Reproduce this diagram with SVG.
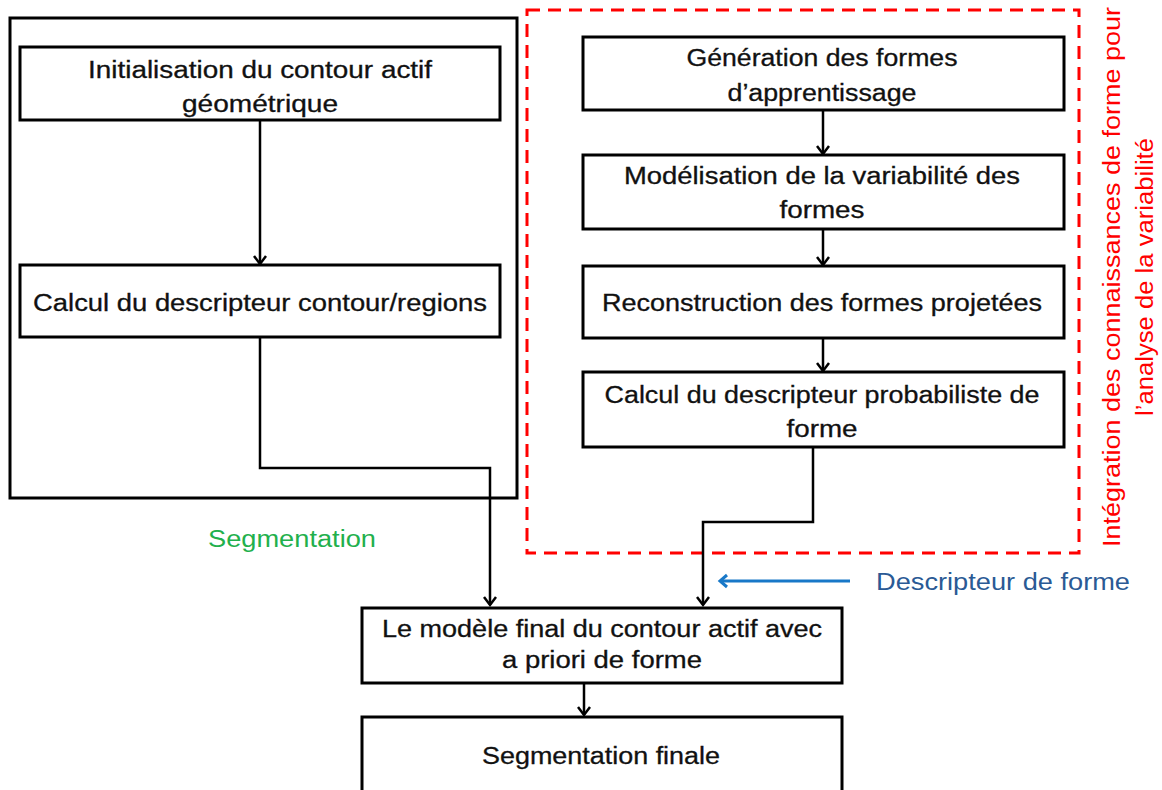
<svg xmlns="http://www.w3.org/2000/svg" width="1162" height="790" viewBox="0 0 1162 790">
  <style>
    .box { fill: #ffffff; stroke: #000000; stroke-width: 3; }
    .frame { fill: none; stroke: #000000; stroke-width: 3; }
    .dash { fill: none; stroke: #ff0000; stroke-width: 3; stroke-dasharray: 13 8; }
    .t { font-family: "Liberation Sans", Arial, sans-serif; font-size: 23px; fill: #111111; stroke: #111111; stroke-width: 0.3; text-anchor: middle; }
    .wire { fill: none; stroke: #000000; stroke-width: 2.5; }
    .blue { fill: none; stroke: #1878c8; stroke-width: 3; }
    .red { font-family: "Liberation Sans", Arial, sans-serif; font-size: 23px; fill: #ff0000; text-anchor: middle; }
  </style>
  <defs>
    <!-- open chevron heads, drawn pointing along +x -->
    <marker id="arr" markerWidth="16" markerHeight="16" refX="13" refY="8" orient="auto" markerUnits="userSpaceOnUse" viewBox="0 0 16 16">
      <path d="M5,2 L13,8 L5,14" fill="none" stroke="#000" stroke-width="2.5"/>
    </marker>
    <marker id="arrb" markerWidth="16" markerHeight="16" refX="13" refY="8" orient="auto" markerUnits="userSpaceOnUse" viewBox="0 0 16 16">
      <path d="M6,2 L13,8 L6,14" fill="none" stroke="#1878c8" stroke-width="3"/>
    </marker>
  </defs>

  <rect width="1162" height="790" fill="#ffffff"/>

  <!-- segmentation frame -->
  <g id="frame-segmentation">
    <rect class="frame" x="10" y="18" width="507" height="480"/>
    <text x="292" y="547" font-family="Liberation Sans, Arial, sans-serif" font-size="23" fill="#22b04c" text-anchor="middle" textLength="168" lengthAdjust="spacingAndGlyphs">Segmentation</text>
  </g>

  <!-- shape-prior frame -->
  <g id="frame-prior">
    <rect class="dash" x="527" y="10" width="552" height="543"/>
    <g transform="translate(1112,277) rotate(-90)">
      <text class="red" x="0" y="8" textLength="540" lengthAdjust="spacingAndGlyphs">Intégration des connaissances de forme pour</text>
      <text class="red" x="0" y="41" textLength="278" lengthAdjust="spacingAndGlyphs">l’analyse de la variabilité</text>
    </g>
  </g>

  <!-- connectors -->
  <g id="connectors">
    <line class="wire" x1="260" y1="120" x2="260" y2="264" marker-end="url(#arr)"/>
    <polyline class="wire" points="260,337 260,468 490,468 490,605" marker-end="url(#arr)"/>
    <line class="wire" x1="823" y1="110" x2="823" y2="154" marker-end="url(#arr)"/>
    <line class="wire" x1="823" y1="229" x2="823" y2="265" marker-end="url(#arr)"/>
    <line class="wire" x1="823" y1="338" x2="823" y2="371" marker-end="url(#arr)"/>
    <polyline class="wire" points="813,447 813,522 703,522 703,605" marker-end="url(#arr)"/>
    <line class="wire" x1="584" y1="683" x2="584" y2="715" marker-end="url(#arr)"/>
    <line class="blue" x1="850" y1="581" x2="720" y2="581" marker-end="url(#arrb)"/>
  </g>

  <g id="node-init">
    <rect class="box" x="20" y="47" width="480" height="73"/>
    <text class="t" x="260" y="78" textLength="344" lengthAdjust="spacingAndGlyphs">Initialisation du contour actif</text>
    <text class="t" x="260" y="112" textLength="156" lengthAdjust="spacingAndGlyphs">géométrique</text>
  </g>

  <g id="node-desc-contour">
    <rect class="box" x="20" y="265" width="480" height="72"/>
    <text class="t" x="260" y="311" textLength="454" lengthAdjust="spacingAndGlyphs">Calcul du descripteur contour/regions</text>
  </g>

  <g id="node-generation">
    <rect class="box" x="583" y="37" width="481" height="73"/>
    <text class="t" x="822" y="66" textLength="271" lengthAdjust="spacingAndGlyphs">Génération des formes</text>
    <text class="t" x="822" y="101" textLength="189" lengthAdjust="spacingAndGlyphs">d’apprentissage</text>
  </g>

  <g id="node-modelisation">
    <rect class="box" x="583" y="155" width="481" height="74"/>
    <text class="t" x="822" y="184" textLength="396" lengthAdjust="spacingAndGlyphs">Modélisation de la variabilité des</text>
    <text class="t" x="822" y="218" textLength="85" lengthAdjust="spacingAndGlyphs">formes</text>
  </g>

  <g id="node-reconstruction">
    <rect class="box" x="583" y="266" width="481" height="72"/>
    <text class="t" x="822" y="311" textLength="440" lengthAdjust="spacingAndGlyphs">Reconstruction des formes projetées</text>
  </g>

  <g id="node-desc-proba">
    <rect class="box" x="583" y="372" width="481" height="75"/>
    <text class="t" x="822" y="403" textLength="435" lengthAdjust="spacingAndGlyphs">Calcul du descripteur probabiliste de</text>
    <text class="t" x="822" y="437" textLength="71" lengthAdjust="spacingAndGlyphs">forme</text>
  </g>

  <g id="node-modele-final">
    <rect class="box" x="362" y="608" width="480" height="75"/>
    <text class="t" x="602" y="637" textLength="440" lengthAdjust="spacingAndGlyphs">Le modèle final du contour actif avec</text>
    <text class="t" x="602" y="668" textLength="200" lengthAdjust="spacingAndGlyphs">a priori de forme</text>
  </g>

  <g id="node-segmentation-finale">
    <rect class="box" x="362" y="717" width="480" height="80"/>
    <text class="t" x="601" y="764" textLength="238" lengthAdjust="spacingAndGlyphs">Segmentation finale</text>
  </g>

  <g id="label-descripteur">
    <text x="1003" y="590" font-family="Liberation Sans, Arial, sans-serif" font-size="23" fill="#2a5a95" text-anchor="middle" textLength="254" lengthAdjust="spacingAndGlyphs">Descripteur de forme</text>
  </g>
</svg>
